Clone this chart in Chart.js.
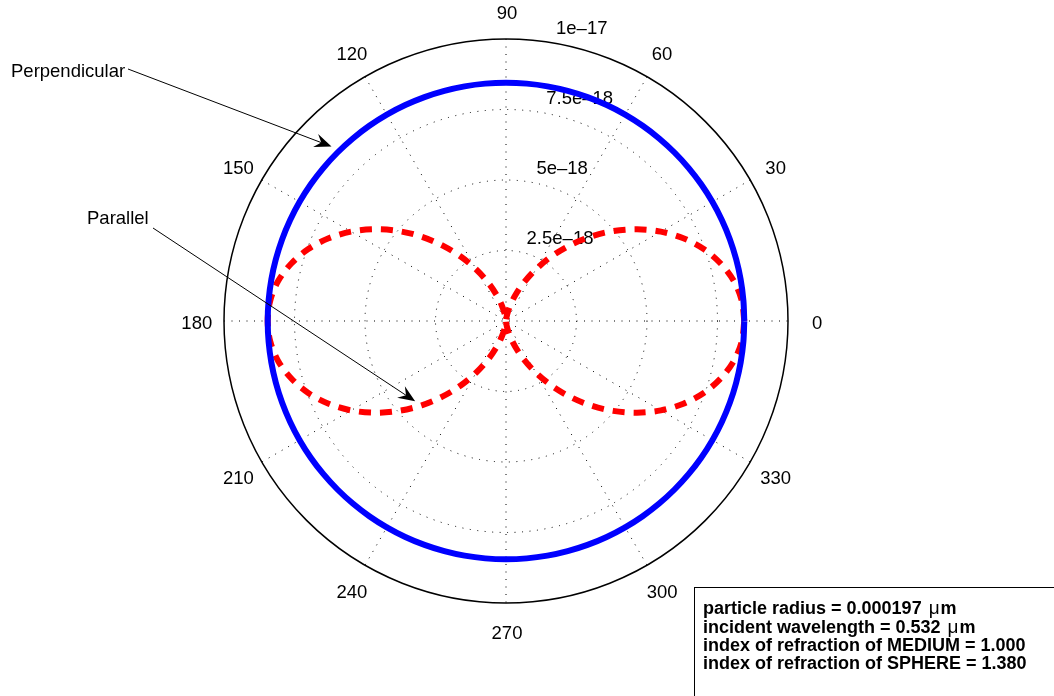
<!DOCTYPE html>
<html>
<head>
<meta charset="utf-8">
<title>Scattered intensity</title>
<script src="https://cdn.jsdelivr.net/npm/chart.js@4.4.1/dist/chart.umd.min.js"></script>
<style>
  html, body { margin: 0; padding: 0; background: #fff; }
  canvas { display: block; }
</style>
</head>
<body>
<canvas id="polarChart" width="1054" height="696"></canvas>
<script>
// polar intensity plot - perpendicular / parallel scattered intensity vs angle

// ==================== DATA ====================
// intensities are stored in units of 1e-18

const angles = [
  0, 5, 10, 15, 20, 25, 30, 35, 40, 45, 50, 55, 60, 65, 70, 75, 80, 85, 90,
  95, 100, 105, 110, 115, 120, 125, 130, 135, 140, 145, 150, 155, 160, 165, 170, 175, 180,
  185, 190, 195, 200, 205, 210, 215, 220, 225, 230, 235, 240, 245, 250, 255, 260, 265, 270,
  275, 280, 285, 290, 295, 300, 305, 310, 315, 320, 325, 330, 335, 340, 345, 350, 355, 360,
];

const perpendicular = [
  8.45, 8.45, 8.45, 8.45, 8.45, 8.45, 8.45, 8.45, 8.45, 8.45, 8.45, 8.45, 8.45, 8.45, 8.45, 8.45, 8.45, 8.45, 8.45,
  8.45, 8.45, 8.45, 8.45, 8.45, 8.45, 8.45, 8.45, 8.45, 8.45, 8.45, 8.45, 8.45, 8.45, 8.45, 8.45, 8.45, 8.45,
  8.45, 8.45, 8.45, 8.45, 8.45, 8.45, 8.45, 8.45, 8.45, 8.45, 8.45, 8.45, 8.45, 8.45, 8.45, 8.45, 8.45, 8.45,
  8.45, 8.45, 8.45, 8.45, 8.45, 8.45, 8.45, 8.45, 8.45, 8.45, 8.45, 8.45, 8.45, 8.45, 8.45, 8.45, 8.45, 8.45,
];

const parallel = [
  8.45, 8.39, 8.2, 7.88, 7.46, 6.94, 6.34, 5.67, 4.96, 4.23, 3.49, 2.78, 2.11, 1.51, 0.99, 0.57, 0.25, 0.06, 0,
  0.06, 0.25, 0.57, 0.99, 1.51, 2.11, 2.78, 3.49, 4.23, 4.96, 5.67, 6.34, 6.94, 7.46, 7.88, 8.2, 8.39, 8.45,
  8.39, 8.2, 7.88, 7.46, 6.94, 6.34, 5.67, 4.96, 4.23, 3.49, 2.78, 2.11, 1.51, 0.99, 0.57, 0.25, 0.06, 0,
  0.06, 0.25, 0.57, 0.99, 1.51, 2.11, 2.78, 3.49, 4.23, 4.96, 5.67, 6.34, 6.94, 7.46, 7.88, 8.2, 8.39, 8.45,
];

// radial rings (outer one is the axis limit) and their labels
const ringValues = [2.5, 5, 7.5, 10];
const ringLabels = ["2.5e\u201318", "5e\u201318", "7.5e\u201318", "1e\u201317"];

// spokes every 30 degrees
const spokeAngles = [0, 30, 60, 90, 120, 150, 180, 210, 240, 270, 300, 330];
const spokeLabels = ["0", "30", "60", "90", "120", "150", "180", "210", "240", "270", "300", "330"];

const infoLines = [
  "particle radius = 0.000197 \u03bcm",
  "incident wavelength = 0.532 \u03bcm",
  "index of refraction of MEDIUM = 1.000",
  "index of refraction of SPHERE = 1.380",
];

// ==================== HELPERS ====================

const DEG = Math.PI / 180;
const R_MAX = ringValues[ringValues.length - 1];
const FONT = '"Liberation Sans", Arial, Helvetica, sans-serif';

function toXY(angleList, values) {
  return angleList.map((a, i) => ({
    x: values[i] * Math.cos(a * DEG),
    y: values[i] * Math.sin(a * DEG),
  }));
}

function polarPixel(chart, angle, r) {
  const { x, y } = chart.scales;
  return {
    px: x.getPixelForValue(r * Math.cos(angle * DEG)),
    py: y.getPixelForValue(r * Math.sin(angle * DEG)),
  };
}

function drawArrow(ctx, x0, y0, x1, y1) {
  const ang = Math.atan2(y1 - y0, x1 - x0);
  const headLen = 17, headHalf = 7, notch = 11;
  ctx.beginPath();
  ctx.moveTo(x0, y0);
  ctx.lineTo(x1 - notch * Math.cos(ang), y1 - notch * Math.sin(ang));
  ctx.stroke();
  ctx.save();
  ctx.translate(x1, y1);
  ctx.rotate(ang);
  ctx.beginPath();
  ctx.moveTo(0, 0);
  ctx.lineTo(-headLen, -headHalf);
  ctx.lineTo(-notch, 0);
  ctx.lineTo(-headLen, headHalf);
  ctx.closePath();
  ctx.fill();
  ctx.restore();
}

// ==================== POLAR GRID PLUGIN ====================

const polarGrid = {
  id: "polarGrid",
  beforeDraw(chart) {
    const ctx = chart.ctx;
    ctx.save();
    ctx.fillStyle = "#fff";
    ctx.fillRect(0, 0, chart.width, chart.height);
    ctx.restore();
  },
  beforeDatasetsDraw(chart) {
    const ctx = chart.ctx;
    const { x } = chart.scales;
    const c = polarPixel(chart, 0, 0);
    const radius = (v) => x.getPixelForValue(v) - c.px;

    ctx.save();
    ctx.strokeStyle = "#000";
    ctx.lineWidth = 1;
    ctx.setLineDash([1, 6.5]);

    // dotted inner rings
    ringValues.slice(0, -1).forEach((v) => {
      ctx.beginPath();
      ctx.arc(c.px, c.py, radius(v), 0, 2 * Math.PI);
      ctx.stroke();
    });

    // dotted spokes, drawn as full diameters
    spokeAngles.slice(1, 7).forEach((a) => {
      const p0 = polarPixel(chart, a, R_MAX);
      const p1 = polarPixel(chart, a + 180, R_MAX);
      ctx.beginPath();
      ctx.moveTo(p0.px, p0.py);
      ctx.lineTo(p1.px, p1.py);
      ctx.stroke();
    });

    // solid outer circle
    ctx.setLineDash([]);
    ctx.lineWidth = 1.5;
    ctx.beginPath();
    ctx.arc(c.px, c.py, radius(R_MAX), 0, 2 * Math.PI);
    ctx.stroke();

    // ring labels along the 82 degree line
    ctx.font = "18.5px " + FONT;
    ctx.fillStyle = "#000";
    ctx.textAlign = "left";
    ctx.textBaseline = "bottom";
    const lead = ctx.measureText("  ").width;
    const step = ringValues[1] - ringValues[0];
    ringValues.forEach((v, i) => {
      const p = polarPixel(chart, 82, v + step / 20);
      ctx.fillText(ringLabels[i], p.px + lead, p.py);
    });
    ctx.restore();
  },
  afterDraw(chart) {
    const ctx = chart.ctx;
    ctx.save();
    ctx.fillStyle = "#000";
    ctx.strokeStyle = "#000";

    // angle labels
    ctx.font = "18.5px " + FONT;
    ctx.textAlign = "center";
    ctx.textBaseline = "middle";
    spokeAngles.forEach((a, i) => {
      const p = polarPixel(chart, a, R_MAX * 1.1);
      ctx.fillText(spokeLabels[i], p.px + 1, p.py + 3);
    });

    // curve annotations
    ctx.textAlign = "left";
    ctx.textBaseline = "alphabetic";
    ctx.lineWidth = 1;
    ctx.fillText("Perpendicular", 11, 77);
    let tip = polarPixel(chart, 135, 8.75);
    drawArrow(ctx, 128, 69, tip.px, tip.py);

    ctx.fillText("Parallel", 87, 224);
    tip = polarPixel(chart, 221.5, 4.3);
    drawArrow(ctx, 153, 228, tip.px, tip.py);

    // parameter box
    ctx.fillStyle = "#fff";
    ctx.fillRect(694, 587, 400, 200);
    ctx.strokeRect(694.5, 587.5, 400, 200);
    ctx.fillStyle = "#000";
    infoLines.forEach((line, i) => {
      const yLine = 614.3 + i * 18.3;
      const parts = line.split("\u03bc");
      let xPos = 703;
      parts.forEach((part, j) => {
        ctx.font = "bold 18px " + FONT;
        ctx.fillText(part, xPos, yLine);
        xPos += ctx.measureText(part).width;
        if (j < parts.length - 1) {
          // the micro sign is set in a regular weight with a little extra room
          xPos += 2;
          ctx.font = "19px " + FONT;
          ctx.fillText("\u03bc", xPos, yLine);
          xPos += ctx.measureText("\u03bc").width + 1;
        }
      });
    });
    ctx.restore();
  },
};

// ==================== CHART ====================

const ctx = document.getElementById("polarChart").getContext("2d");

new Chart(ctx, {
  type: "scatter",
  data: {
    datasets: [
      {
        label: "Perpendicular",
        data: toXY(angles, perpendicular),
        showLine: true,
        borderColor: "#0000ff",
        borderWidth: 6,
        pointRadius: 0,
        tension: 0.33,
        fill: false,
      },
      {
        label: "Parallel",
        data: toXY(angles, parallel),
        showLine: true,
        borderColor: "#ff0000",
        borderWidth: 6,
        borderDash: [12, 9],
        borderCapStyle: "butt",
        pointRadius: 0,
        tension: 0.33,
        fill: false,
      },
    ],
  },
  options: {
    responsive: false,
    animation: false,
    layout: {
      padding: { left: 224, right: 266, top: 39, bottom: 93 },
    },
    scales: {
      x: { type: "linear", min: -R_MAX, max: R_MAX, display: false },
      y: { type: "linear", min: -R_MAX, max: R_MAX, display: false },
    },
    plugins: {
      legend: { display: false },
      tooltip: { enabled: false },
    },
  },
  plugins: [polarGrid],
});
</script>
</body>
</html>
